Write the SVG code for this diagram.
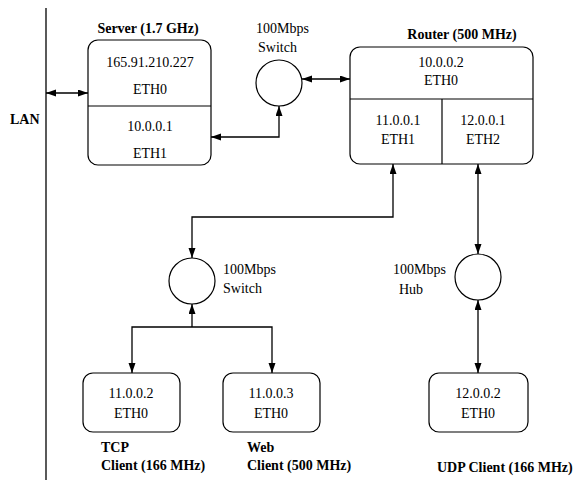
<svg xmlns="http://www.w3.org/2000/svg" width="578" height="480" viewBox="0 0 578 480">
  <style>
    text { font-family: "Liberation Serif", "Times New Roman", serif; font-size: 14px; fill: #000; }
    .b { font-weight: bold; }
    .m { text-anchor: middle; }
    .box { fill: #fff; stroke: #000; stroke-width: 1.2; }
    .sep { stroke: #000; stroke-width: 1.2; fill: none; }
    .hub { fill: #fff; stroke: #000; stroke-width: 1.2; }
    .wire { fill: none; stroke: #000; stroke-width: 1.3; }
  </style>
  <defs>
    <marker id="ah" markerUnits="userSpaceOnUse" markerWidth="11" markerHeight="8" refX="10" refY="3.5" orient="auto-start-reverse">
      <path d="M0,0 L10,3.5 L0,7 Z" fill="#000"/>
    </marker>
  </defs>
  <rect width="578" height="480" fill="#fff"/>

  <g font-family="Liberation Serif, Times New Roman, serif" font-size="14">
  <!-- LAN backbone -->
  <g id="lan">
    <line x1="46" y1="8" x2="46" y2="480" stroke="#000" stroke-width="1.3"/>
    <text class="b" x="10" y="124">LAN</text>
  </g>

  <!-- Server -->
  <g id="server">
    <text class="b m" x="148" y="33">Server (1.7 GHz)</text>
    <rect class="box" x="88" y="40" width="123" height="125" rx="10"/>
    <line class="sep" x1="88" y1="106" x2="211" y2="106"/>
    <text class="m" x="150" y="67">165.91.210.227</text>
    <text class="m" x="150" y="94">ETH0</text>
    <text class="m" x="150" y="131">10.0.0.1</text>
    <text class="m" x="150" y="158">ETH1</text>
  </g>

  <!-- Top switch -->
  <g id="switch-top">
    <circle class="hub" cx="279" cy="83" r="23"/>
    <text x="256" y="33">100Mbps</text>
    <text x="258" y="52">Switch</text>
  </g>

  <!-- Router -->
  <g id="router">
    <text class="b m" x="462" y="39">Router (500 MHz)</text>
    <rect class="box" x="350" y="47" width="183" height="117" rx="10"/>
    <line class="sep" x1="350" y1="99" x2="533" y2="99"/>
    <line class="sep" x1="442" y1="99" x2="442" y2="164"/>
    <text class="m" x="441" y="67">10.0.0.2</text>
    <text class="m" x="441" y="85">ETH0</text>
    <text class="m" x="398" y="125">11.0.0.1</text>
    <text class="m" x="398" y="144">ETH1</text>
    <text class="m" x="483" y="125">12.0.0.1</text>
    <text class="m" x="483" y="144">ETH2</text>
  </g>

  <!-- Lower switch -->
  <g id="switch-low">
    <circle class="hub" cx="192" cy="281" r="23"/>
    <text x="223" y="274">100Mbps</text>
    <text x="223" y="293">Switch</text>
  </g>

  <!-- Hub -->
  <g id="hub">
    <circle class="hub" cx="478" cy="277" r="23"/>
    <text x="393" y="274">100Mbps</text>
    <text x="399" y="294">Hub</text>
  </g>

  <!-- TCP client -->
  <g id="tcp-client">
    <rect class="box" x="83" y="373" width="97" height="59" rx="10"/>
    <text class="m" x="131" y="398">11.0.0.2</text>
    <text class="m" x="131" y="418">ETH0</text>
    <text class="b" x="101" y="452">TCP</text>
    <text class="b" x="101" y="470">Client (166 MHz)</text>
  </g>

  <!-- Web client -->
  <g id="web-client">
    <rect class="box" x="223" y="373" width="97" height="59" rx="10"/>
    <text class="m" x="271" y="398">11.0.0.3</text>
    <text class="m" x="271" y="418">ETH0</text>
    <text class="b" x="247" y="452">Web</text>
    <text class="b" x="247" y="470">Client (500 MHz)</text>
  </g>

  <!-- UDP client -->
  <g id="udp-client">
    <rect class="box" x="429" y="373" width="99" height="59" rx="10"/>
    <text class="m" x="478" y="398">12.0.0.2</text>
    <text class="m" x="478" y="418">ETH0</text>
    <text class="b" x="437" y="472">UDP Client (166 MHz)</text>
  </g>
  </g>

  <!-- Links -->
  <g id="connectors">
    <path class="wire" d="M46,93 L88,93" marker-start="url(#ah)" marker-end="url(#ah)"/>
    <path class="wire" d="M279,106 L279,137 L211,137" marker-start="url(#ah)" marker-end="url(#ah)"/>
    <path class="wire" d="M302,79 L350,79" marker-start="url(#ah)" marker-end="url(#ah)"/>
    <path class="wire" d="M393,164 L393,217 L192,217 L192,258" marker-start="url(#ah)" marker-end="url(#ah)"/>
    <path class="wire" d="M192,304 L192,327" marker-start="url(#ah)"/>
    <path class="wire" d="M132,373 L132,327 L272,327 L272,373" marker-start="url(#ah)" marker-end="url(#ah)"/>
    <path class="wire" d="M478,164 L478,254" marker-start="url(#ah)" marker-end="url(#ah)"/>
    <path class="wire" d="M478,300 L478,373" marker-start="url(#ah)" marker-end="url(#ah)"/>
  </g>
</svg>
